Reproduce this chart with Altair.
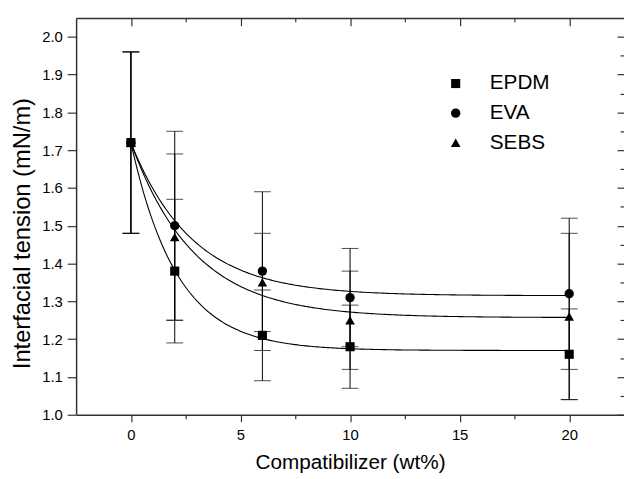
import altair as alt
import pandas as pd

# ---- data ----
x_wt = [0, 2, 6, 10, 20]
series_names = ["EPDM", "EVA", "SEBS"]
epdm_vals = [1.72, 1.38, 1.21, 1.18, 1.16]
epdm_err = [0.24, 0.19, 0.12, 0.11, 0.12]
eva_vals = [1.72, 1.50, 1.38, 1.31, 1.32]
eva_err = [0.24, 0.25, 0.21, 0.13, 0.20]
sebs_vals = [1.72, 1.47, 1.35, 1.25, 1.26]
sebs_err = [0.24, 0.22, 0.13, 0.13, 0.22]

# exponential-decay fit parameters (y = y0 + A*exp(-x/t)) drawn in the reference
fit_y0 = [1.170, 1.315, 1.257]
fit_A = [0.550, 0.405, 0.463]
fit_t = [2.1, 2.8, 2.9]

marker_shapes = ["square", "circle", "triangle-up"]
marker_sizes = [85, 95, 175]

x_ticks = [0, 2.5, 5, 7.5, 10, 12.5, 15, 17.5, 20]
y_ticks = [1.0, 1.05, 1.1, 1.15, 1.2, 1.25, 1.3, 1.35, 1.4, 1.45, 1.5, 1.55,
           1.6, 1.65, 1.7, 1.75, 1.8, 1.85, 1.9, 1.95, 2.0]

rows = []
for name, vals, errs in zip(series_names, [epdm_vals, eva_vals, sebs_vals],
                            [epdm_err, eva_err, sebs_err]):
    for xv, v, e in zip(x_wt, vals, errs):
        rows.append({"series": name, "x": xv, "y": v, "lo": v - e, "hi": v + e})
df = pd.DataFrame(rows)
fit_df = pd.DataFrame({"series": series_names, "y0": fit_y0, "A": fit_A, "t": fit_t})

FONT = "Liberation Sans"
XDOM = [-2.5, 22.5]
YDOM = [1.0, 2.05]
W, H = 555, 402

xscale = alt.Scale(domain=XDOM, nice=False, zero=False)
yscale = alt.Scale(domain=YDOM, nice=False, zero=False)

x_major = "datum.value % 5 === 0"
y_major = "abs(datum.value*10 - round(datum.value*10)) < 0.001"

x_axis = alt.Axis(values=x_ticks, labelExpr=f"{x_major} ? datum.label : ''",
                  tickSize={"condition": {"test": x_major, "value": 7}, "value": 4},
                  title="Compatibilizer (wt%)", titleFontSize=21,
                  titleBaseline="alphabetic", titleY=54, labelPadding=6,
                  labelFontSize=15)
y_axis = alt.Axis(values=y_ticks,
                  labelExpr=f"{y_major} ? format(datum.value, '.1f') : ''",
                  tickSize={"condition": {"test": y_major, "value": 9}, "value": 5},
                  title="Interfacial tension (mN/m)", titleFontSize=24,
                  titleBaseline="alphabetic", titleX=-47, titleY=218,
                  titleAngle=-90, labelPadding=5, labelFontSize=15)

base = alt.Chart(df)

curves = alt.Chart(fit_df).transform_calculate(
    xs="sequence(0, 20.05, 0.1)"
).transform_flatten(["xs"]).transform_calculate(
    yfit="datum.y0 + datum.A * exp(-datum.xs / datum.t)"
).mark_line(color="black", strokeWidth=1.1).encode(
    x=alt.X("xs:Q", scale=xscale, axis=x_axis),
    y=alt.Y("yfit:Q", scale=yscale, axis=y_axis),
    detail="series:N",
    order="xs:Q",
)

bars = base.mark_rule(color="black", strokeWidth=1).encode(
    x=alt.X("x:Q", scale=xscale), y=alt.Y("lo:Q", scale=yscale), y2="hi:Q")
cap_lo = base.mark_tick(color="black", orient="horizontal", size=17, thickness=1).encode(
    x=alt.X("x:Q", scale=xscale), y=alt.Y("lo:Q", scale=yscale))
cap_hi = base.mark_tick(color="black", orient="horizontal", size=17, thickness=1).encode(
    x=alt.X("x:Q", scale=xscale), y=alt.Y("hi:Q", scale=yscale))

legend = alt.Legend(title=None, orient="none", legendX=374, legendY=56,
                    labelFontSize=21, labelFont=FONT, labelColor="black",
                    symbolFillColor="black", symbolStrokeWidth=0,
                    rowPadding=8, labelOffset=24, padding=0)

points = base.mark_point(filled=True, color="black", opacity=1).encode(
    x=alt.X("x:Q", scale=xscale),
    y=alt.Y("y:Q", scale=yscale),
    shape=alt.Shape("series:N",
                    scale=alt.Scale(domain=series_names, range=marker_shapes),
                    legend=legend),
    size=alt.Size("series:N",
                  scale=alt.Scale(domain=series_names, range=marker_sizes),
                  legend=legend),
)

main = alt.layer(curves, bars, cap_lo, cap_hi, points)

# frame: top axis and right axis with inward ticks
frame = base.mark_point(opacity=0).encode(
    x=alt.X("x:Q", scale=xscale,
            axis=alt.Axis(orient="bottom", offset=-H, values=x_ticks, labels=False,
                          title=None,
                          tickSize={"condition": {"test": x_major, "value": 8},
                                    "value": 4})),
    y=alt.Y("y:Q", scale=yscale,
            axis=alt.Axis(orient="left", offset=-W, values=y_ticks, labels=False,
                          title=None, domain=False,
                          tickSize={"condition": {"test": y_major, "value": 7},
                                    "value": 4})),
)

chart = alt.layer(main, frame).resolve_scale(
    x="independent", y="independent"
).resolve_axis(
    x="independent", y="independent"
).properties(
    width=W, height=H,
    autosize=alt.AutoSizeParams(type="none"),
    padding={"left": 69, "top": 7, "right": 0, "bottom": 56},
).configure_view(stroke=None).configure_axis(
    grid=False, domainColor="#333333", domainWidth=1.5, tickColor="#333333",
    tickWidth=1.2, labelFont=FONT, labelColor="black", titleFont=FONT,
    titleFontWeight="normal", titleColor="black",
)

chart.save("out.html", embed_options={"renderer": "svg", "actions": False})
